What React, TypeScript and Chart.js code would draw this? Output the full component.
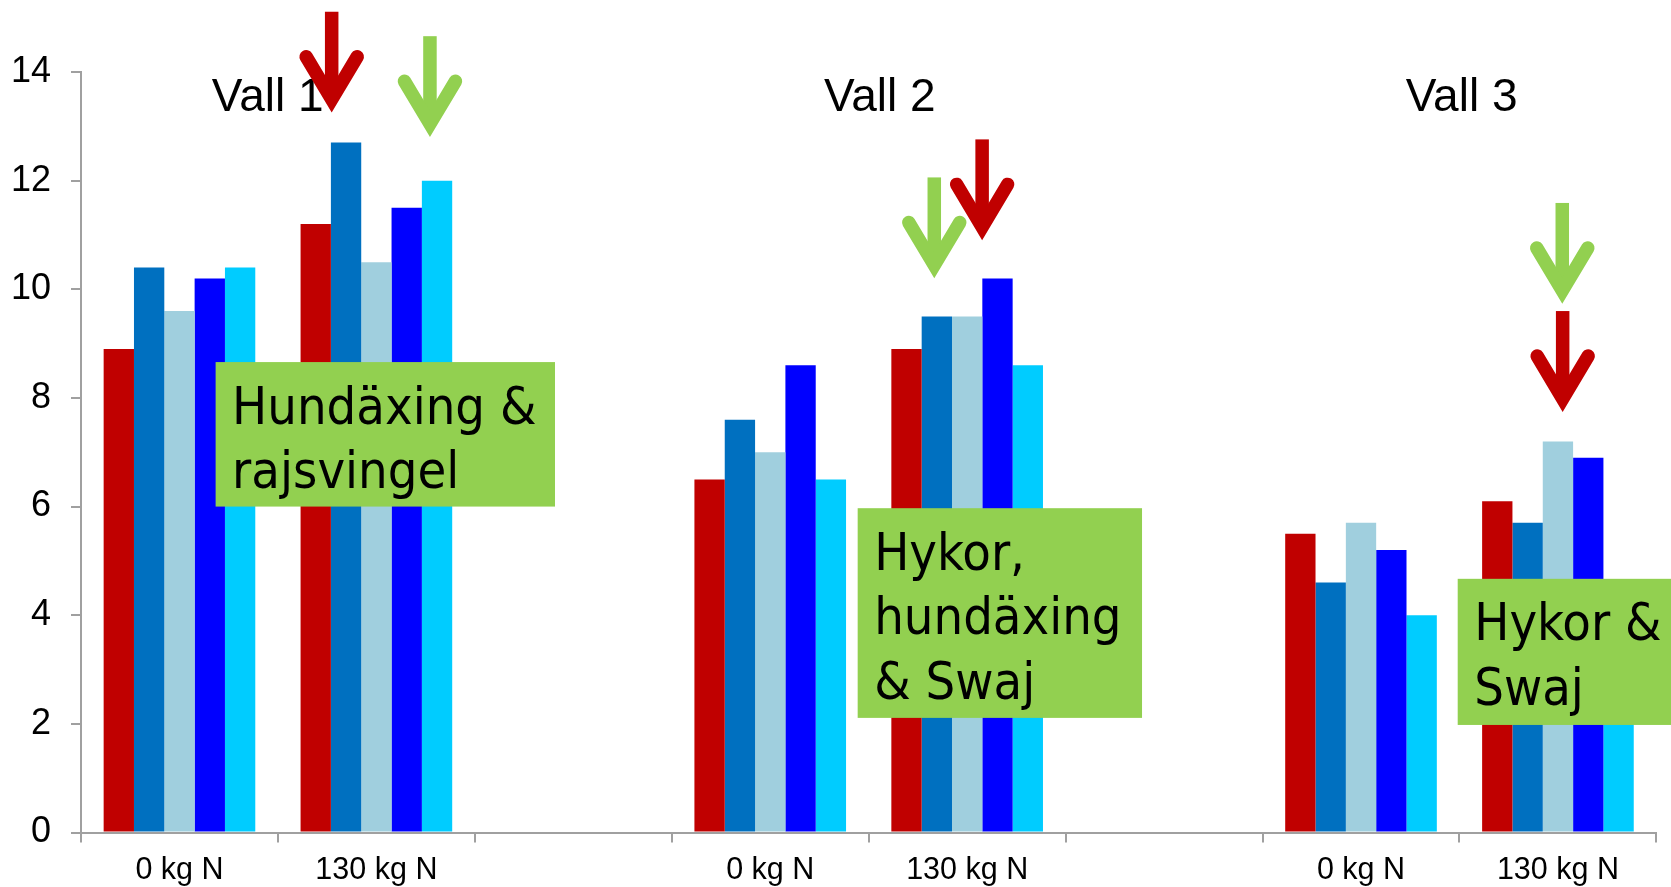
import React, { useEffect, useRef } from 'react';
import { Chart, registerables } from 'chart.js';

Chart.register(...registerables);

// ---- data ----
const categories = ['0 kg N', '130 kg N', '', '0 kg N', '130 kg N', '', '0 kg N', '130 kg N'];
const seriesRed = [8.9, 11.2, null, 6.5, 8.9, null, 5.5, 6.1];
const seriesDarkBlue = [10.4, 12.7, null, 7.6, 9.5, null, 4.6, 5.7];
const seriesLightBlue = [9.6, 10.5, null, 7.0, 9.5, null, 5.7, 7.2];
const seriesBlue = [10.2, 11.5, null, 8.6, 10.2, null, 5.2, 6.9];
const seriesCyan = [10.4, 12.0, null, 6.5, 8.6, null, 4.0, 4.2];
const yMin = 0;
const yMax = 14;
const yStep = 2;
const vallLabels = ['Vall 1', 'Vall 2', 'Vall 3'];
const boxTexts = [
  ['Hundäxing &', 'rajsvingel'],
  ['Hykor,', 'hundäxing', '& Swaj'],
  ['Hykor &', 'Swaj'],
];

// ---- styles / annotation placement (in category-index and value units) ----
const COLORS = ['#C00000', '#0070C0', '#A0CFDE', '#0000FF', '#00CCFF'];
const AXIS_COLOR = '#A0A0A0';
const GREEN = '#92D050';
const SANS = '"Liberation Sans", Arial, sans-serif';
const BOX_FONT = '"DejaVu Sans Condensed", "DejaVu Sans", sans-serif';

const vallPos = [0.448, 3.556, 6.511]; // x index of label centre
const vallBaseline = 13.28; // value units
const boxes = [
  { x0: 0.1836, x1: 1.907, top: 8.66, bottom: 6.0 },
  { x0: 3.444, x1: 4.888, top: 5.97, bottom: 2.11 },
  { x0: 6.491, x1: 7.7, top: 4.67, bottom: 1.98 },
];
const arrows = [
  { x: 0.773, tip: 13.25, color: '#C00000' },
  { x: 1.272, tip: 12.8, color: '#92D050' },
  { x: 3.833, tip: 10.2, color: '#92D050' },
  { x: 4.076, tip: 10.9, color: '#C00000' },
  { x: 7.022, tip: 9.73, color: '#92D050' },
  { x: 7.024, tip: 7.74, color: '#C00000' },
];

const annotationPlugin = {
  id: 'annotations',
  afterDatasetsDraw(chart: any) {
    const ctx = chart.ctx as CanvasRenderingContext2D;
    const xs = chart.scales.x;
    const ys = chart.scales.y;
    ctx.save();

    // green label boxes
    boxes.forEach((b, i) => {
      const left = xs.getPixelForValue(b.x0);
      const right = xs.getPixelForValue(b.x1);
      const top = ys.getPixelForValue(b.top);
      const bottom = ys.getPixelForValue(b.bottom);
      ctx.fillStyle = GREEN;
      ctx.fillRect(left, top, right - left, bottom - top);
      ctx.fillStyle = '#000';
      ctx.font = `52px ${BOX_FONT}`;
      ctx.textAlign = 'left';
      ctx.textBaseline = 'alphabetic';
      boxTexts[i].forEach((line, j) => {
        ctx.fillText(line, left + 16.5, top + 61.5 + j * 64.5);
      });
    });

    // Vall labels
    ctx.fillStyle = '#000';
    ctx.font = `46px ${SANS}`;
    ctx.textAlign = 'center';
    ctx.textBaseline = 'alphabetic';
    vallLabels.forEach((t, i) => {
      ctx.fillText(t, xs.getPixelForValue(vallPos[i]), ys.getPixelForValue(vallBaseline));
    });

    // arrows
    const w = 13.5;
    const len = 101;
    arrows.forEach((a) => {
      const cx = xs.getPixelForValue(a.x);
      const tipY = ys.getPixelForValue(a.tip);
      const vertexY = tipY - 13.3;
      ctx.strokeStyle = a.color;
      ctx.fillStyle = a.color;
      ctx.fillRect(cx - w / 2, tipY - len, w, len - 20);
      ctx.lineWidth = w;
      ctx.lineCap = 'round';
      ctx.lineJoin = 'miter';
      ctx.miterLimit = 10;
      ctx.beginPath();
      ctx.moveTo(cx - 25.5, tipY - 56);
      ctx.lineTo(cx, vertexY);
      ctx.lineTo(cx + 25.5, tipY - 56);
      ctx.stroke();
    });

    ctx.restore();
  },
};

export default function App() {
  const canvasRef = useRef<HTMLCanvasElement | null>(null);

  useEffect(() => {
    document.body.style.margin = '0';
    const canvas = canvasRef.current;
    if (!canvas) return;
    const series = [seriesRed, seriesDarkBlue, seriesLightBlue, seriesBlue, seriesCyan];
    const chart = new Chart(canvas, {
      type: 'bar',
      data: {
        labels: categories,
        datasets: series.map((d, i) => ({
          label: `s${i + 1}`,
          data: d,
          backgroundColor: COLORS[i],
          borderWidth: 0,
          barPercentage: 1.0,
          categoryPercentage: 0.77,
        })),
      },
      options: {
        animation: false,
        responsive: true,
        maintainAspectRatio: false,
        devicePixelRatio: 1,
        layout: { padding: { top: 72, right: 14.6, left: 0, bottom: 0 } },
        plugins: {
          legend: { display: false },
          tooltip: { enabled: false },
          title: { display: false },
        },
        scales: {
          x: {
            grid: {
              display: true,
              drawOnChartArea: false,
              drawTicks: true,
              tickLength: 10,
              color: AXIS_COLOR,
              lineWidth: 2,
              offset: true,
            },
            border: { display: true, color: AXIS_COLOR, width: 2 },
            ticks: {
              color: '#000',
              font: { family: SANS, size: 30.5 },
              padding: 10,
              autoSkip: false,
              maxRotation: 0,
            },
            afterFit: (s: any) => {
              s.height = 54.5;
            },
          },
          y: {
            min: yMin,
            max: yMax,
            grid: {
              display: true,
              drawOnChartArea: false,
              drawTicks: true,
              tickLength: 10,
              color: AXIS_COLOR,
              lineWidth: 2,
            },
            border: { display: true, color: AXIS_COLOR, width: 2 },
            ticks: {
              stepSize: yStep,
              color: '#000',
              font: { family: SANS, size: 36 },
              padding: 20,
            },
            afterFit: (s: any) => {
              s.width = 81;
            },
          },
        },
      },
      plugins: [annotationPlugin],
    } as any);
    return () => chart.destroy();
  }, []);

  return (
    <div style={{ position: 'fixed', left: 0, top: 0, width: 1671, height: 887, background: '#fff' }}>
      <canvas ref={canvasRef} />
    </div>
  );
}
